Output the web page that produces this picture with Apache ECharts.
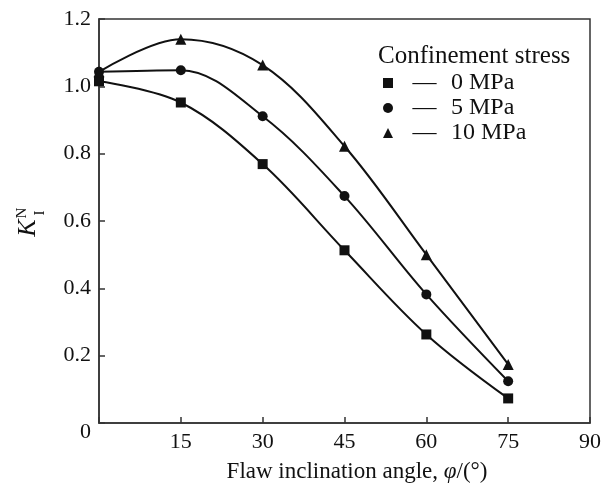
<!DOCTYPE html>
<html>
<head>
    <meta charset="utf-8">
    <title>K_I^N vs flaw inclination angle</title>
    <script src="https://cdn.jsdelivr.net/npm/echarts@6/dist/echarts.min.js"></script>
    <style>
        html, body { margin: 0; padding: 0; background: #fff; }
    </style>
</head>
<body>
    <div id="main" style="width:613px;height:490px;"></div>

    <script type="text/javascript">
        // data
        var angles = [0, 15, 30, 45, 60, 75];
        var seriesNames = ['0 MPa', '5 MPa', '10 MPa'];
        var kI_0MPa = [1.015, 0.952, 0.769, 0.513, 0.263, 0.073];
        var kI_5MPa = [1.043, 1.048, 0.911, 0.674, 0.382, 0.124];
        var kI_10MPa = [1.043, 1.140, 1.063, 0.822, 0.500, 0.174];
        var symbols = ['rect', 'circle', 'triangle'];
        var xTicks = { min: 0, max: 90, interval: 15 };
        var yTicks = { min: 0, max: 1.2, interval: 0.2 };

        var font = "'Liberation Serif', 'Times New Roman', serif";
        var ink = '#111';
        var axisColor = '#333';

        function pairs(ys) {
            return angles.map(function (a, i) { return [a, ys[i]]; });
        }

        var allValues = [kI_0MPa, kI_5MPa, kI_10MPa];

        var series = seriesNames.map(function (name, i) {
            return {
                name: name,
                type: 'line',
                smooth: 0.35,
                data: pairs(allValues[i]),
                symbol: symbols[i],
                symbolSize: i === 2 ? 11 : 10,
                showAllSymbol: true,
                lineStyle: { color: ink, width: 2 },
                itemStyle: { color: ink },
                z: 3
            };
        });

        var myChart = echarts.init(document.getElementById('main'));

        var option = {
            backgroundColor: '#fff',
            animation: false,
            title: {
                text: 'Confinement stress',
                left: 378,
                top: 44,
                padding: 0,
                textStyle: { fontFamily: font, fontSize: 25, fontWeight: 'normal', color: ink }
            },
            legend: {
                orient: 'vertical',
                left: 378,
                top: 66,
                itemWidth: 10,
                itemHeight: 10,
                itemGap: 1,
                data: seriesNames.map(function (n, i) { return { name: n, icon: symbols[i] }; }),
                formatter: function (n) { return '{d|\u2014}{t|' + n + '}'; },
                textStyle: {
                    fontFamily: font, fontSize: 24, color: ink, lineHeight: 24,
                    rich: {
                        d: { width: 53, align: 'center', fontFamily: font, fontSize: 24, color: ink },
                        t: { fontFamily: font, fontSize: 24, color: ink }
                    }
                }
            },
            grid: {
                left: 99, right: 23, top: 19, bottom: 67,
                show: true, borderColor: axisColor, borderWidth: 1.5,
                containLabel: false
            },
            xAxis: {
                type: 'value',
                min: xTicks.min, max: xTicks.max, interval: xTicks.interval,
                name: 'Flaw inclination angle, {i|\u03c6}/(\u00b0)',
                nameLocation: 'middle',
                nameGap: 37,
                nameTextStyle: {
                    fontFamily: font, fontSize: 23, color: ink,
                    padding: [0, 0, 0, 25],
                    rich: { i: { fontFamily: font, fontSize: 23, fontStyle: 'italic', color: ink } }
                },
                axisLine: { lineStyle: { color: axisColor, width: 1.5 } },
                axisTick: { inside: true, length: 6, lineStyle: { color: axisColor, width: 1.5 } },
                splitLine: { show: false },
                axisLabel: {
                    margin: 8,
                    fontFamily: font, fontSize: 22, color: ink,
                    formatter: function (v) { return v === 0 ? '' : String(v); }
                }
            },
            yAxis: {
                type: 'value',
                min: yTicks.min, max: yTicks.max, interval: yTicks.interval,
                axisLine: { show: true, lineStyle: { color: axisColor, width: 1.5 } },
                axisTick: { show: true, inside: true, length: 6, lineStyle: { color: axisColor, width: 1.5 } },
                splitLine: { show: false },
                axisLabel: {
                    margin: 8,
                    fontFamily: font, fontSize: 22, color: ink,
                    formatter: function (v) { return v === 0 ? '{z|0}' : v.toFixed(1); },
                    rich: { z: { fontFamily: font, fontSize: 22, color: ink, padding: [18, 0, 0, 0] } }
                }
            },
            graphic: [{
                type: 'group',
                x: 28,
                y: 228,
                rotation: Math.PI / 2,
                children: [
                    { type: 'text', x: 0, y: 0, style: { text: 'K', font: 'italic 26px ' + font, fill: ink, textAlign: 'center', textVerticalAlign: 'middle' } },
                    { type: 'text', x: 15, y: 12, style: { text: 'I', font: '15px ' + font, fill: ink, textAlign: 'center', textVerticalAlign: 'middle' } },
                    { type: 'text', x: 15, y: -6, style: { text: 'N', font: '15px ' + font, fill: ink, textAlign: 'center', textVerticalAlign: 'middle' } }
                ]
            }],
            series: series
        };

        myChart.setOption(option);
    </script>
</body>
</html>
